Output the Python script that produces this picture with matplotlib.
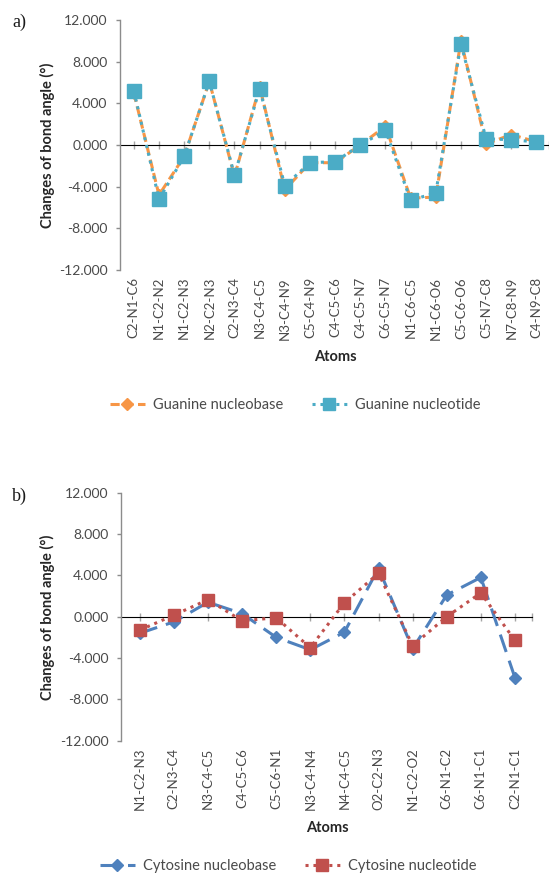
import matplotlib
matplotlib.use("Agg")
import matplotlib.pyplot as plt

# ---------------- data ----------------
guanine_atoms = ["C2-N1-C6", "N1-C2-N2", "N1-C2-N3", "N2-C2-N3", "C2-N3-C4",
                 "N3-C4-C5", "N3-C4-N9", "C5-C4-N9", "C4-C5-C6", "C4-C5-N7",
                 "C6-C5-N7", "N1-C6-C5", "N1-C6-O6", "C5-C6-O6", "C5-N7-C8",
                 "N7-C8-N9", "C4-N9-C8"]
guanine_nucleobase = [5.0, -4.8, -1.1, 6.1, -3.0, 5.6, -4.3, -1.7, -1.7, 0.0,
                      1.8, -5.1, -5.0, 10.0, 0.1, 1.0, 0.3]
guanine_nucleotide = [5.2, -5.2, -1.1, 6.1, -2.9, 5.4, -3.9, -1.7, -1.6, 0.0,
                      1.4, -5.3, -4.6, 9.7, 0.6, 0.5, 0.3]

cytosine_atoms = ["N1-C2-N3", "C2-N3-C4", "N3-C4-C5", "C4-C5-C6", "C5-C6-N1",
                  "N3-C4-N4", "N4-C4-C5", "O2-C2-N3", "N1-C2-O2", "C6-N1-C2",
                  "C6-N1-C1", "C2-N1-C1"]
cytosine_nucleobase = [-1.6, -0.5, 1.4, 0.3, -2.0, -3.2, -1.5, 4.7, -3.1, 2.1, 3.8, -5.9]
cytosine_nucleotide = [-1.3, 0.15, 1.65, -0.4, -0.1, -3.0, 1.35, 4.2, -2.8, 0.0, 2.3, -2.3]

y_ticks = [-12, -8, -4, 0, 4, 8, 12]
y_ticklabels = ["-12.000", "-8.000", "-4.000", "0.000", "4.000", "8.000", "12.000"]

# ---------------- style ----------------
plt.rcParams['font.family'] = ['Lato', 'DejaVu Sans']
W, H = 549, 875
fig = plt.figure(figsize=(W / 100, H / 100), dpi=100)
fig.patch.set_facecolor("white")

GRAY = "#8C8C8C"
TXT = "#4A4A4A"


def fx(px):
    return px / W


def fy(py):
    return 1 - py / H


def make_axes(left, right, top, bottom):
    return fig.add_axes([fx(left), fy(bottom), fx(right) - fx(left), fy(top) - fy(bottom)])


def style_axes(ax, labels):
    n = len(labels)
    ax.set_xlim(-0.55, n - 0.5)
    ax.set_ylim(-12, 12)
    for s in ["top", "right", "bottom"]:
        ax.spines[s].set_visible(False)
    ax.spines["left"].set_color(GRAY)
    ax.spines["left"].set_linewidth(1.0)
    ax.set_yticks(y_ticks)
    ax.set_yticklabels(y_ticklabels)
    ax.tick_params(axis="y", length=3, width=1, color=GRAY, pad=6,
                   labelsize=10, labelcolor=TXT)
    ax.set_xticks(range(n))
    ax.set_xticklabels(labels, rotation=90, va="top", ha="center")
    ax.tick_params(axis="x", length=0, pad=5, labelsize=9.5, labelcolor=TXT)
    # category axis crossing at zero
    sec = ax.secondary_xaxis(0.5)
    sec.spines["bottom"].set_color("#A6A6A6")
    sec.spines["bottom"].set_linewidth(1.6)
    sec.set_xticks(list(range(n)) + [n - 0.5])
    sec.set_xticklabels([])
    sec.tick_params(axis="x", direction="inout", length=6, width=1, color="#A6A6A6")
    ax.set_facecolor("none")


# ---------------- panel a ----------------
axa = make_axes(120, 549, 20, 270)
style_axes(axa, guanine_atoms)
xa = range(len(guanine_atoms))
axa.plot(xa, guanine_nucleobase, color="#F79646", lw=2.2, ls=(0, (3, 1.5)),
         marker="D", ms=6.5, label="Guanine nucleobase", zorder=3)
axa.plot(xa, guanine_nucleotide, color="#4BACC6", lw=2.2, ls=(0, (1, 1.6)),
         marker="s", ms=9.5, label="Guanine nucleotide", zorder=4)
axa.legend(loc="center", bbox_to_anchor=(fx(295), fy(405)), bbox_transform=fig.transFigure,
           ncol=2, frameon=False, fontsize=10.5, handlelength=2.4, handletextpad=0.55,
           columnspacing=2.0, labelcolor=TXT, markerscale=0.95)

fig.text(fx(47), fy(145), "Changes of bond angle (°)", rotation=90, ha="center", va="center",
         fontsize=10.5, fontweight="bold", color="#262626")
fig.text(fx(335), fy(357), "Atoms", ha="center", va="center", fontsize=10.5,
         fontweight="bold", color="#262626")
fig.text(fx(12), fy(22), "a)", ha="left", va="center", fontsize=13,
         family="Liberation Serif", color="#1a1a1a")

# ---------------- panel b ----------------
axb = make_axes(121, 532, 492.7, 740.7)
style_axes(axb, cytosine_atoms)
xb = range(len(cytosine_atoms))
axb.plot(xb, cytosine_nucleobase, color="#4F81BD", lw=2.2, ls=(0, (6, 3)),
         marker="D", ms=6.5, label="Cytosine nucleobase", zorder=3)
axb.plot(xb, cytosine_nucleotide, color="#C0504D", lw=2.2, ls=(0, (1, 1.6)),
         marker="s", ms=9, label="Cytosine nucleotide", zorder=4)
axb.legend(loc="center", bbox_to_anchor=(fx(288), fy(866)), bbox_transform=fig.transFigure,
           ncol=2, frameon=False, fontsize=10.5, handlelength=2.4, handletextpad=0.55,
           columnspacing=2.0, labelcolor=TXT, markerscale=0.95)

fig.text(fx(47), fy(617), "Changes of bond angle (°)", rotation=90, ha="center", va="center",
         fontsize=10.5, fontweight="bold", color="#262626")
fig.text(fx(327), fy(828), "Atoms", ha="center", va="center", fontsize=10.5,
         fontweight="bold", color="#262626")
fig.text(fx(12), fy(496), "b)", ha="left", va="center", fontsize=13,
         family="Liberation Serif", color="#1a1a1a")

fig.savefig("out.png", dpi=100, facecolor="white")
